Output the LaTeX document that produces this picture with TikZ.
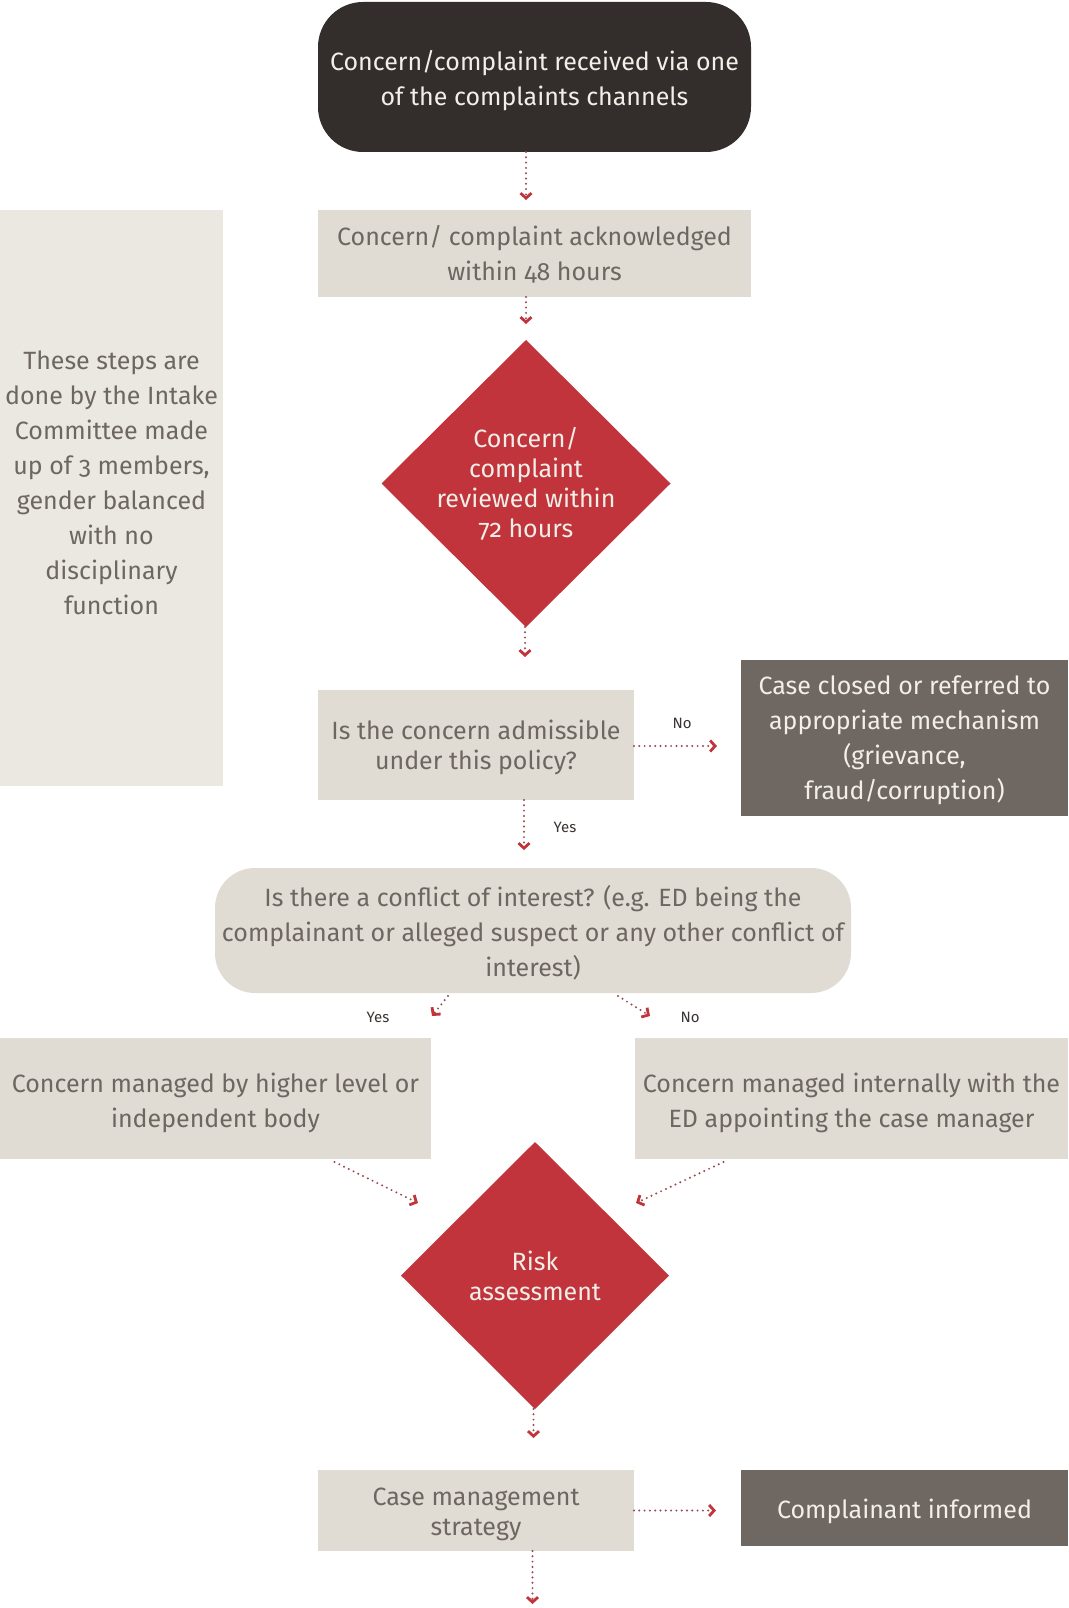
\documentclass[tikz,border=0pt]{standalone}
\usepackage{fontspec}
\setmainfont{Fira Sans}[Numbers=OldStyle]
\usetikzlibrary{arrows.meta,shapes.geometric,calc}
\definecolor{darkbox}{HTML}{332E2C}
\definecolor{beige}{HTML}{E0DCD3}
\definecolor{panel}{HTML}{EBE8E2}
\definecolor{redd}{HTML}{C1343C}
\definecolor{dotc}{HTML}{98484F}
\definecolor{greybox}{HTML}{6F6762}
\definecolor{txtgrey}{HTML}{6E6661}
\definecolor{lighttxt}{HTML}{F2EEE8}
\definecolor{lbl}{HTML}{3A3533}
\begin{document}
\begin{tikzpicture}[x=1pt,y=-1pt,
  shp/.style={inner sep=0pt, outer sep=0pt},
  txt/.style={inner sep=0pt, align=center, font=\fontsize{25}{35}\selectfont},
  txts/.style={txt, font=\fontsize{25}{30}\selectfont},
  arr/.style={draw=dotc, line width=2.2pt, line cap=round, dash pattern=on 0pt off 5.3pt,
    -{Straight Barb[length=5pt,width=11pt,line width=2.8pt,color=redd]}},
  lab/.style={inner sep=0pt, text=lbl, font=\fontsize{15}{18}\selectfont}]
\useasboundingbox (0,0) rectangle (1068,1608);
\fill[white] (0,0) rectangle (1068,1608);

% shapes
\node[shp, fill=darkbox, rounded corners=45pt, minimum width=433pt, minimum height=150pt] (top) at (534.5,77) {};
\node[shp, fill=beige, minimum width=433pt, minimum height=87pt] (ack) at (534.5,253.5) {};
\node[shp, fill=panel, minimum width=223pt, minimum height=576pt] (side) at (111.5,498) {};
\node[shp, diamond, fill=redd, minimum width=289pt, minimum height=287pt] (rev) at (526,483.5) {};
\node[shp, fill=beige, minimum width=316pt, minimum height=110pt] (adm) at (476,745) {};
\node[shp, fill=greybox, minimum width=327pt, minimum height=156pt] (closed) at (904.5,738) {};
\node[shp, fill=beige, rounded corners=40pt, minimum width=636pt, minimum height=125pt] (conf) at (533,930.5) {};
\node[shp, fill=beige, minimum width=431pt, minimum height=121pt] (yesbox) at (215.5,1098.5) {};
\node[shp, fill=beige, minimum width=433pt, minimum height=121pt] (nobox) at (851.5,1098.5) {};
\node[shp, diamond, fill=redd, minimum width=268pt, minimum height=267pt] (risk) at (535,1275.5) {};
\node[shp, fill=beige, minimum width=316pt, minimum height=81pt] (cms) at (476,1510.5) {};
\node[shp, fill=greybox, minimum width=327pt, minimum height=76pt] (inf) at (904.5,1508) {};

% texts
\node[txt, text=lighttxt] (topt) at ([yshift=-4pt]top.center)
  {Concern/complaint received via one\\of the complaints channels};
\node[txt, text=txtgrey] (ackt) at ([yshift=-1pt]ack.center)
  {Concern/ complaint acknowledged\\within 48 hours};
\node[txt, text=txtgrey] (sidet) at ([yshift=15pt]side.center)
  {These steps are\\done by the Intake\\Committee made\\up of 3 members,\\gender balanced\\with no\\disciplinary\\function};
\node[txts, text=lighttxt] (revt) at ([yshift=0pt]rev.center)
  {Concern/\\complaint\\reviewed within\\72 hours};
\node[txts, text=txtgrey] (admt) at ([yshift=-2pt]adm.center)
  {Is the concern admissible\\under this policy?};
\node[txt, text=lighttxt] (closedt) at ([yshift=-2pt]closed.center)
  {Case closed or referred to\\appropriate mechanism\\(grievance,\\fraud/corruption)};
\node[txt, text=txtgrey] (conft) at ([yshift=-2pt]conf.center)
  {Is there a conflict of interest? (e.g. ED being the\\complainant or alleged suspect or any other conflict of\\interest)};
\node[txt, text=txtgrey] (yesboxt) at ([yshift=-4pt]yesbox.center)
  {Concern managed by higher level or\\independent body};
\node[txt, text=txtgrey] (noboxt) at ([yshift=-4pt]nobox.center)
  {Concern managed internally with the\\ED appointing the case manager};
\node[txts, text=lighttxt] (riskt) at ([yshift=-0.5pt]risk.center) {Risk\\assessment};
\node[txts, text=txtgrey] (cmst) at ([yshift=-4pt]cms.center)
  {Case management\\strategy};
\node[txt, text=lighttxt] (inft) at ([yshift=-3pt]inf.center)
  {Complainant informed};

% free ends
\coordinate (e1) at (432,1016);
\coordinate (e2) at (650,1016);
\coordinate (e3) at (418,1203);
\coordinate (e4) at (636,1203);
\coordinate (e5) at (532.5,1604);

\draw[arr] (rev.north |- top.south) -- ([yshift=10pt]rev.north |- ack.north);
\draw[arr] (rev.north |- ack.south) -- ([yshift=16pt]rev.north);
\draw[arr] ([xshift=-1pt]rev.south) -- ([xshift=-1pt,yshift=-30pt]rev.south);
\draw[arr] (adm.east |- 0,746) -- ([xshift=-24pt]closed.west |- 0,746);
\node[lab] (lno1) at (682,723) {No};
\draw[arr] ([xshift=48pt]adm.south) -- ([xshift=48pt,yshift=-50pt]adm.south);
\node[lab] (lyes1) at (565,827) {Yes};
\draw[arr] ($(conf.south)+(-85,3)$) -- (e1);
\node[lab] (lyes2) at (378,1017) {Yes};
\draw[arr] ($(conf.south)+(85,3)$) -- (e2);
\node[lab] (lno2) at (690,1017) {No};
\draw[arr] ($(yesbox.south)+(119,3)$) -- (e3);
\draw[arr] ($(nobox.south)+(-128,3)$) -- (e4);
\draw[arr] ([xshift=-1.5pt]risk.south) -- ([xshift=-1.5pt,yshift=-29pt]risk.south);
\draw[arr] (cms.east) -- ([xshift=-25pt]inf.west |- cms.east);
\draw[arr] ([xshift=56.5pt]cms.south) -- (e5);
\end{tikzpicture}
\end{document}
